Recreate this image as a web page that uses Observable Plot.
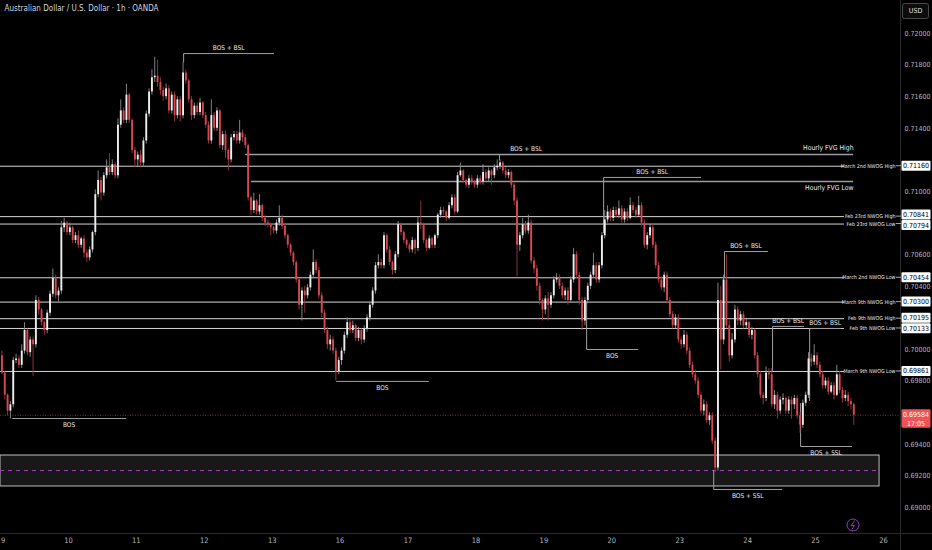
<!DOCTYPE html>
<html><head><meta charset="utf-8">
<script src="https://cdn.jsdelivr.net/npm/d3@7"></script>
<script src="https://cdn.jsdelivr.net/npm/@observablehq/plot@0.6"></script>
<style>
html,body{margin:0;padding:0;background:#000;}
#chart{width:932px;height:550px;overflow:hidden;}
</style></head><body><div id="chart"></div>
<script>
const title = "Australian Dollar / U.S. Dollar · 1h · OANDA";
const dayLabels = ["9","10","11","12","13","16","17","18","19","20","23","24","25","26"];
// price-scale labels that are not hidden behind the level tags
const yTicks = [0.690,0.692,0.694,0.698,0.700,0.704,0.706,0.710,0.714,0.716,0.718,0.720];

// hourly candles, prices x 10^4 (open = previous close)
const firstOpen = 6996;
const close = [
6985,6971,6961,6965,6993,6994,6990,6999,7012,6998,7006,7003,7031,7025,7017,7012,7023,7035,7045,7034,7037,7077,7080,7074,
7077,7069,7072,7066,7070,7061,7058,7063,7074,7098,7107,7099,7110,7115,7112,7117,7110,7142,7151,7145,7161,7145,7126,7120,
7123,7118,7132,7149,7163,7172,7173,7169,7164,7160,7165,7151,7161,7148,7158,7148,7175,7170,7158,7148,7154,7150,7156,7148,
7142,7132,7148,7140,7151,7129,7136,7126,7120,7134,7136,7132,7137,7134,7129,7096,7088,7094,7087,7091,7083,7080,7079,7077,
7075,7080,7083,7078,7072,7066,7061,7055,7044,7028,7037,7034,7039,7047,7055,7050,7034,7023,7012,7003,7006,6999,6986,6993,
6999,7009,7017,7012,7015,7007,7012,7006,7013,7020,7028,7037,7053,7055,7053,7072,7063,7055,7050,7060,7079,7074,7069,7066,
7063,7069,7064,7080,7079,7069,7064,7070,7066,7072,7085,7088,7087,7083,7091,7096,7087,7110,7113,7107,7104,7108,7106,7104,
7108,7106,7112,7108,7113,7110,7115,7116,7118,7113,7110,7112,7104,7094,7066,7072,7079,7075,7080,7056,7051,7040,7031,7025,
7032,7028,7034,7044,7045,7040,7034,7037,7031,7044,7060,7047,7031,7018,7031,7040,7047,7053,7044,7053,7072,7082,7087,7083,
7088,7085,7089,7082,7087,7083,7091,7088,7085,7091,7080,7066,7072,7077,7066,7053,7044,7039,7047,7031,7022,7015,7020,7006,
7003,7009,6999,6990,6984,6980,6971,6961,6965,6955,6958,6942,6925,7031,7006,7044,7015,6996,7006,7025,7018,7022,7015,7017,
7009,7012,6996,6984,6971,6969,6985,6984,6965,6971,6961,6968,6969,6961,6968,6965,6969,6958,6952,6966,6971,6994,6992,6996,
6990,6984,6977,6980,6973,6977,6971,6984,6974,6969,6971,6967,6965,6958.4];
const high = [
6999,6986,6972,6967,6995,6997,6996,7003,7017,7013,7008,7008,7034,7033,7026,7018,7025,7037,7051,7047,7039,7081,7083,7081,
7080,7078,7074,7075,7071,7072,7063,7065,7075,7101,7113,7109,7112,7120,7124,7120,7118,7146,7158,7153,7168,7162,7146,7128,
7125,7126,7134,7151,7165,7177,7185,7183,7172,7166,7168,7167,7163,7163,7160,7160,7182,7177,7171,7160,7156,7156,7159,7157,
7150,7144,7158,7150,7153,7152,7138,7138,7127,7136,7138,7138,7145,7139,7136,7130,7097,7099,7095,7098,7092,7085,7082,7080,
7078,7082,7091,7085,7079,7073,7067,7062,7056,7045,7039,7040,7041,7049,7063,7057,7052,7036,7025,7014,7009,7008,7001,6995,
7001,7011,7020,7019,7018,7016,7014,7013,7015,7022,7030,7039,7055,7060,7057,7074,7073,7065,7056,7062,7081,7080,7075,7070,
7067,7071,7070,7084,7094,7080,7070,7072,7071,7073,7086,7090,7090,7088,7093,7098,7098,7112,7118,7114,7108,7110,7110,7107,
7110,7110,7117,7114,7115,7114,7117,7120,7120,7119,7115,7114,7113,7105,7096,7074,7083,7081,7085,7082,7058,7053,7042,7032,
7034,7036,7036,7046,7048,7047,7042,7039,7039,7046,7064,7062,7049,7033,7033,7042,7049,7061,7055,7055,7074,7088,7091,7089,
7090,7090,7094,7091,7089,7089,7096,7093,7090,7097,7093,7082,7074,7079,7079,7068,7055,7046,7049,7049,7033,7024,7022,7022,
7008,7012,7011,7001,6992,6987,6982,6973,6968,6967,6960,6960,6944,7042,7040,7047,7060,7018,7010,7028,7027,7024,7024,7019,
7018,7014,7013,6998,6986,6973,6989,6988,6988,6974,6973,6970,6972,6970,6970,6970,6971,6971,6960,6968,6973,6998,6997,7003,
6998,6992,6986,6982,6982,6979,6979,6990,6986,6976,6974,6973,6969,6966];
const low = [
6984,6968,6958,6956,6963,6991,6988,6988,6997,6996,6995,6983,7001,7022,7015,7009,7010,7021,7033,7032,7030,7035,7074,7072,
7072,7067,7067,7064,7064,7058,7055,7056,7061,7072,7096,7094,7097,7108,7110,7110,7108,7108,7140,7143,7143,7143,7124,7115,
7116,7115,7116,7130,7147,7161,7169,7166,7161,7157,7158,7149,7149,7144,7146,7144,7146,7168,7156,7145,7146,7148,7148,7146,
7140,7130,7130,7138,7138,7127,7126,7121,7113,7118,7132,7130,7130,7131,7127,7094,7085,7086,7085,7085,7081,7078,7077,7072,
7073,7073,7078,7076,7070,7064,7059,7053,7042,7025,7018,7023,7032,7037,7045,7048,7032,7020,7010,7000,6999,6997,6980,6984,
6990,6997,7007,7010,7010,7005,7005,7003,7004,7011,7018,7026,7035,7051,7051,7051,7061,7053,7047,7048,7058,7072,7067,7064,
7061,7061,7060,7062,7076,7067,7062,7063,7064,7064,7070,7083,7085,7081,7082,7089,7085,7086,7109,7105,7102,7102,7104,7102,
7102,7104,7104,7106,7106,7104,7108,7113,7114,7111,7108,7108,7102,7091,7046,7062,7070,7073,7073,7054,7048,7037,7028,7018,
7022,7018,7026,7032,7042,7038,7032,7031,7028,7030,7042,7045,7028,7012,7015,7029,7038,7045,7042,7042,7051,7070,7080,7081,
7081,7083,7083,7080,7080,7081,7082,7086,7083,7084,7078,7064,7063,7070,7064,7051,7042,7037,7036,7029,7020,7013,7013,7004,
7000,7001,6997,6988,6982,6978,6969,6959,6958,6953,6952,6940,6922,6923,6987,7003,7013,6992,6994,7004,7015,7015,7013,7013,
7007,7006,6994,6982,6969,6965,6967,6981,6963,6962,6956,6959,6965,6959,6959,6956,6962,6956,6947,6950,6964,6969,6989,6990,
6988,6982,6975,6975,6971,6972,6968,6970,6972,6966,6967,6964,6962,6952];

// horizontal levels (price), span in candle index
const levelName  = ["Hourly FVG High","March 2nd NWOG High","Hourly FVG Low","Feb 23rd NWOG High","Feb 23rd NWOG Low","March 2nd NWOG Low","March 9th NWOG High","Feb 9th NWOG High","Feb 9th NWOG Low","March 9th NWOG Low"];
const levelPrice = [0.71234,0.71160,0.71063,0.70841,0.70794,0.70454,0.70300,0.70195,0.70133,0.69861];
const levelKind  = ["fvg","nwog","fvg","nwog","nwog","nwog","nwog","nwog","nwog","nwog"];
const levelFrom  = [86.1,-0.5,88.2,-0.5,-0.5,-0.5,-0.5,-0.5,-0.5,-0.5];
const levelTo    = [300.9,297.7,300.9,297.7,297.7,297.7,297.7,297.7,297.7,297.7];

// structure annotations
const bosLabel  = ["BOS","BOS + BSL","BOS + BSL","BOS + BSL","BOS","BOS","BOS + BSL","BOS + BSL","BOS + BSL","BOS + SSL","BOS + SSL"];
const bosStart  = [3.7,64.2,175.8,212.6,206.6,118.2,255.3,272.3,285.4,282.2,251.5];
const bosEnd    = [43.7,96,194.6,246.9,224.6,150.7,270.5,283.3,296.3,300.2,275.5];
const bosLevel  = [0.69563,0.71873,0.71234,0.71089,0.70000,0.69798,0.70620,0.70146,0.70133,0.69386,0.69114];
const bosAnchor = [0.69563,0.71820,0.71200,0.70740,0.70300,0.69798,0.70456,0.69867,0.69677,0.69658,0.69234];
const bosSide   = ["below","above","above","above","below","below","above","above","above","below","below"];

// demand zone
const zoneStart = -0.5, zoneEnd = 310.1, zoneTop = 0.69329, zoneBottom = 0.69133, zoneMid = 0.69234;
const lastTime = "17:05";

const F = "'Liberation Sans Narrow','DejaVu Sans Condensed','Roboto Condensed',Roboto,sans-serif";

const candles = close.map((c, i) => ({
  i, o: (i ? close[i-1] : firstOpen) / 1e4, c: c / 1e4, h: high[i] / 1e4, l: low[i] / 1e4
}));
const up = candles.filter(d => d.c >= d.o), dn = candles.filter(d => d.c < d.o);
const last = candles[candles.length - 1].c;

const levels = levelName.map((name, k) => ({name, price: levelPrice[k], kind: levelKind[k], x1: levelFrom[k], x2: levelTo[k]}));
const nwog = levels.filter(d => d.kind === "nwog");
const fvg = levels.filter(d => d.kind === "fvg");

const bosPts = [];
const bos = bosLabel.map((t, k) => {
  bosPts.push({id: k, x: bosStart[k], y: bosAnchor[k]});
  bosPts.push({id: k, x: bosStart[k], y: bosLevel[k]});
  bosPts.push({id: k, x: bosEnd[k], y: bosLevel[k]});
  return {t, x: (bosStart[k] + bosEnd[k]) / 2, y: bosLevel[k], side: bosSide[k]};
});

const days = dayLabels.map((label, k) => ({label, i: k * 24 - 0.5, first: k === 0}));

const chart = Plot.plot({
  width: 932, height: 550,
  marginLeft: 0, marginRight: 32, marginTop: 0, marginBottom: 17,
  style: {background: "#000", color: "#b2b5be", fontFamily: F},
  x: {domain: [-0.5, 317.5], axis: null},
  y: {domain: [0.688354, 0.722089], axis: null},
  marks: [
    Plot.rect([0], {x1: zoneStart, x2: zoneEnd, y1: zoneBottom, y2: zoneTop, fill: "#181818", stroke: "#bdbdbd", strokeWidth: 1}),
    Plot.ruleY([zoneMid], {x1: zoneStart, x2: zoneEnd, stroke: "#9b3fc0", strokeDasharray: "4,4", strokeWidth: 1}),
    Plot.ruleY([last], {stroke: "#8a2a30", strokeWidth: 1, strokeDasharray: "1,1.5"}),
    Plot.ruleY(nwog, {y: "price", x1: "x1", x2: "x2", stroke: "#d4d4d4", strokeWidth: 1}),
    Plot.ruleY(fvg, {y: "price", x1: "x1", x2: "x2", stroke: "#9a9a9a", strokeWidth: 1.4}),
    Plot.line(bosPts, {x: "x", y: "y", z: "id", stroke: "#a0a0a0", strokeWidth: 1, curve: "linear"}),
    Plot.ruleX(up, {x: "i", y1: "l", y2: "h", stroke: "#8e8e8e", strokeWidth: 0.9}),
    Plot.ruleX(dn, {x: "i", y1: "l", y2: "h", stroke: "#9a3a40", strokeWidth: 0.9}),
    Plot.ruleX(up, {x: "i", y1: "o", y2: "c", stroke: "#ececec", strokeWidth: 1.9}),
    Plot.ruleX(dn, {x: "i", y1: "o", y2: "c", stroke: "#d9474f", strokeWidth: 1.9}),
    Plot.text(bos.filter(d => d.side === "above"), {x: "x", y: "y", text: "t", dy: -6, fill: "#e8e8e8", fontSize: 6.5}),
    Plot.text(bos.filter(d => d.side === "below"), {x: "x", y: "y", text: "t", dy: 6, fill: "#e8e8e8", fontSize: 6.5}),
    Plot.text(nwog, {y: "price", text: "name", frameAnchor: "right", dx: -5, textAnchor: "end", fill: "#e8e8e8", fontSize: 5.3}),
    Plot.text([fvg[0]], {x: "x2", y: "price", text: "name", textAnchor: "end", dy: -7, fill: "#ececec", fontSize: 6.8}),
    Plot.text([fvg[1]], {x: "x2", y: "price", text: "name", textAnchor: "end", dy: 6.5, fill: "#ececec", fontSize: 6.8}),
    Plot.text([title], {frameAnchor: "top-left", dx: 4, dy: 5, lineAnchor: "top", fill: "#d1d4dc", fontSize: 8}),
    // day labels along the time scale
    Plot.text(days.filter(d => !d.first), {x: "i", text: "label", frameAnchor: "bottom", dy: 9, fill: "#b2b5be", fontSize: 7.5}),
    Plot.text(days.filter(d => d.first), {x: "i", text: "label", frameAnchor: "bottom", dy: 9, textAnchor: "start", dx: 0.5, fill: "#b2b5be", fontSize: 7.5}),
    Plot.axisY(yTicks, {anchor: "right", tickSize: 0, tickPadding: 4, tickFormat: d3.format(".5f"), fontSize: 7, fill: "#b2b5be", label: null})
  ]
});
document.getElementById("chart").appendChild(chart);

// price-scale decorations drawn with the plot's own y scale
const ys = chart.scale("y");
const svg = d3.select(chart);
const deco = svg.append("g").attr("font-family", F);
deco.append("line").attr("x1", 900.5).attr("x2", 900.5).attr("y1", 0).attr("y2", 550).attr("stroke", "#2a2a2a");
deco.append("line").attr("x1", 0).attr("x2", 932).attr("y1", 533.5).attr("y2", 533.5).attr("stroke", "#2a2a2a");

// connectors from level labels to tags
nwog.forEach(d => {
  const y = ys.apply(d.price);
  deco.append("line").attr("x1", 896).attr("x2", 901).attr("y1", y).attr("y2", y).attr("stroke", "#d4d4d4").attr("stroke-width", 0.8);
});

// white price tags with simple collision resolution
const tags = nwog.map(d => ({p: d.price, y: ys.apply(d.price)})).sort((a, b) => a.y - b.y);
for (let pass = 0; pass < 4; pass++) {
  for (let k = 1; k < tags.length; k++) {
    const gap = tags[k].y - tags[k-1].y;
    if (gap < 10.5) { const s = (10.5 - gap) / 2; tags[k-1].y -= s; tags[k].y += s; }
  }
}
tags.forEach(t => {
  deco.append("rect").attr("x", 901.5).attr("y", t.y - 5).attr("width", 29).attr("height", 10).attr("rx", 1).attr("fill", "#ffffff");
  deco.append("text").attr("x", 916).attr("y", t.y).attr("dy", "0.35em").attr("text-anchor", "middle")
    .attr("font-size", 7).attr("fill", "#000").text(d3.format(".5f")(t.p));
});

// last price tag
const ly = ys.apply(last);
deco.append("rect").attr("x", 901.5).attr("y", ly - 5.5).attr("width", 29).attr("height", 18.5).attr("rx", 1).attr("fill", "#ef5158");
deco.append("text").attr("x", 916).attr("y", ly).attr("dy", "0.35em").attr("text-anchor", "middle").attr("font-size", 7).attr("fill", "#fff").text(d3.format(".5f")(last));
deco.append("text").attr("x", 916).attr("y", ly + 8.5).attr("dy", "0.35em").attr("text-anchor", "middle").attr("font-size", 7).attr("fill", "#fff").text(lastTime);

// currency box
deco.append("rect").attr("x", 902.5).attr("y", 3.5).attr("width", 26).attr("height", 15).attr("rx", 2).attr("fill", "#0c0c0c").attr("stroke", "#4a4a4a");
deco.append("text").attr("x", 915.5).attr("y", 11).attr("dy", "0.35em").attr("text-anchor", "middle").attr("font-size", 7).attr("fill", "#e0e0e0").text("USD");

// lightning badge
deco.append("circle").attr("cx", 853).attr("cy", 525).attr("r", 6).attr("fill", "none").attr("stroke", "#8e3fb0").attr("stroke-width", 1);
deco.append("path").attr("d", "M854.5,520.5 L851.3,525.6 L854.5,525.4 L851.8,529.6").attr("fill", "none").attr("stroke", "#8e3fb0").attr("stroke-width", 1);
</script></body></html>
